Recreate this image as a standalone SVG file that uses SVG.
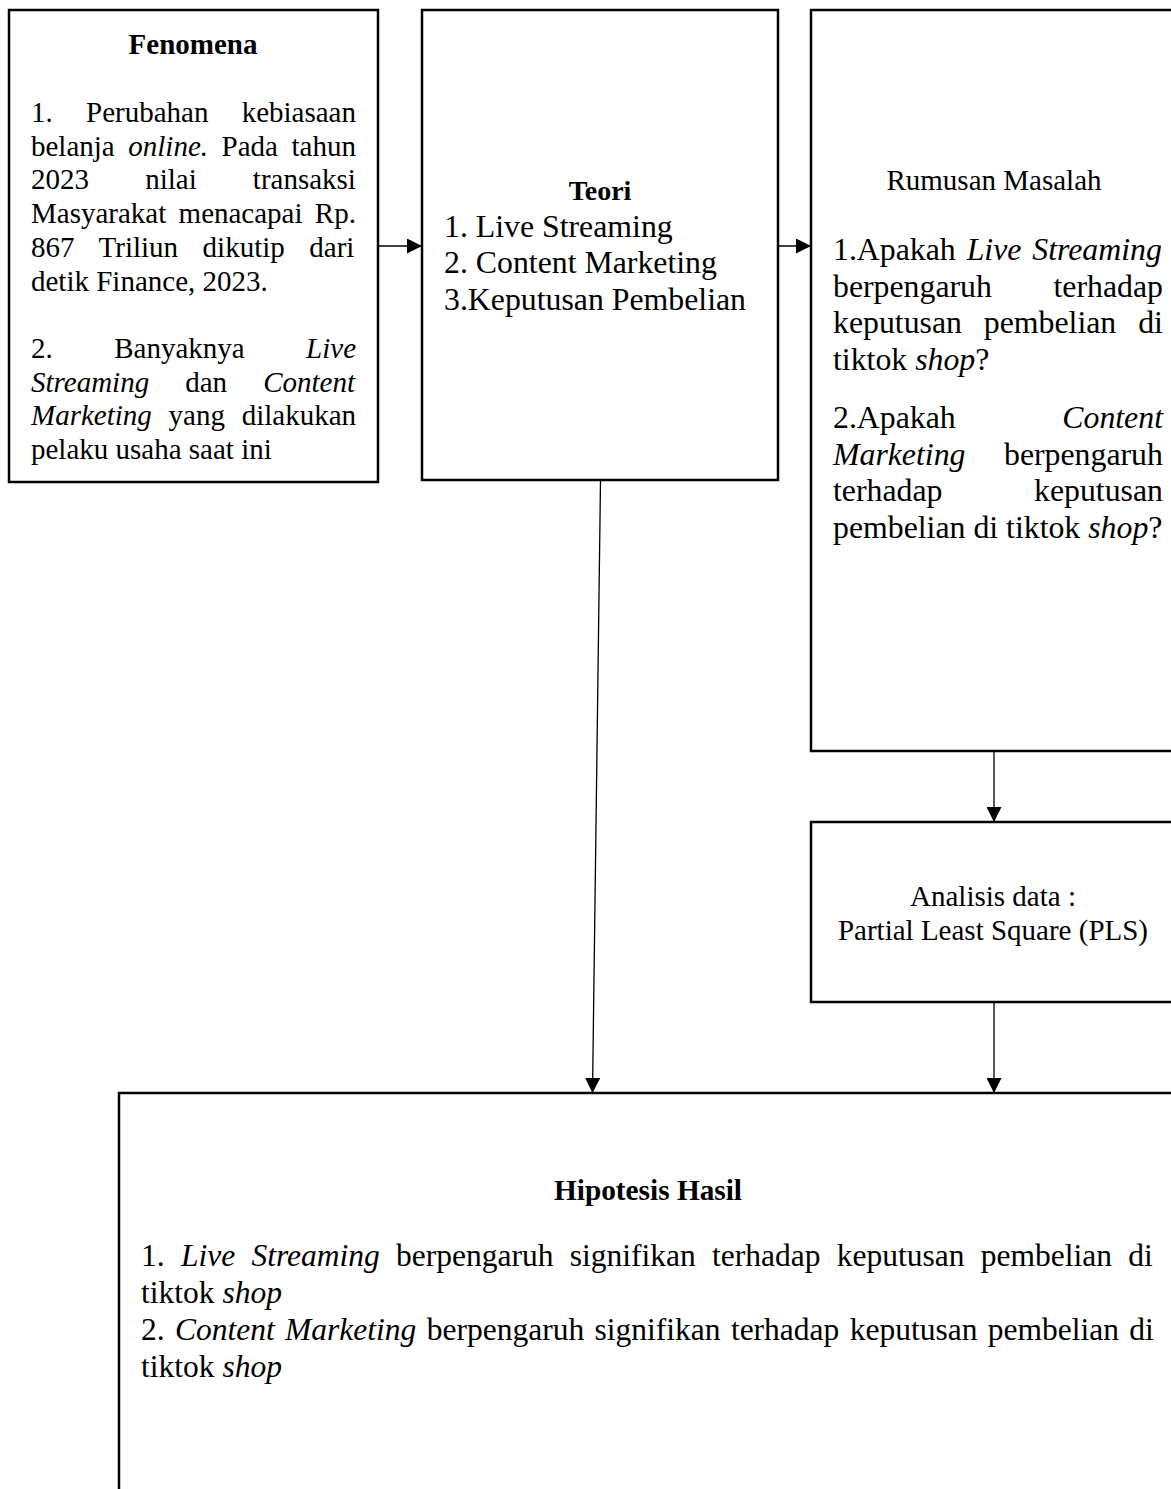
<svg xmlns="http://www.w3.org/2000/svg" width="1171" height="1489" viewBox="0 0 1171 1489">
<style>
  .box { fill: #ffffff; stroke: #000000; stroke-width: 2.5; }
  .conn { fill: none; stroke: #000000; stroke-width: 1.3; }
  text { font-family: "Liberation Serif", "Times New Roman", serif; fill: #000000; }
  .b { font-weight: bold; }
  .i { font-style: italic; }
  .f29 { font-size: 29px; }
  .f32 { font-size: 31.8px; }
  .f31 { font-size: 31.5px; }
</style>
<defs>
  <marker id="arrow" markerUnits="userSpaceOnUse" markerWidth="15" markerHeight="15" refX="15" refY="7.5" orient="auto">
    <path d="M0,0 L15,7.5 L0,15 Z" fill="#000000"/>
  </marker>
</defs>
<rect x="0" y="0" width="1171" height="1489" fill="#ffffff"/>

<g id="connectors">
  <line class="conn" x1="378" y1="246" x2="422" y2="246" marker-end="url(#arrow)"/>
  <line class="conn" x1="778" y1="246" x2="811" y2="246" marker-end="url(#arrow)"/>
  <line class="conn" x1="994" y1="751" x2="994" y2="822" marker-end="url(#arrow)"/>
  <line class="conn" x1="994" y1="1002" x2="994" y2="1093" marker-end="url(#arrow)"/>
  <line class="conn" x1="600.5" y1="481" x2="592.5" y2="1093" marker-end="url(#arrow)"/>
</g>

<g id="fenomena">
  <rect class="box" x="9" y="10" width="369" height="472"/>
  <text class="f29 b" x="193" y="54" text-anchor="middle">Fenomena</text>
  <text class="f29" x="31" y="122" word-spacing="26">1. Perubahan kebiasaan</text>
  <text class="f29" x="31" y="155.7" word-spacing="6.3">belanja <tspan class="i">online.</tspan> Pada tahun</text>
  <text class="f29" x="31" y="189.4" word-spacing="48.9">2023 nilai transaksi</text>
  <text class="f29" x="31" y="223.1" word-spacing="5.05">Masyarakat menacapai Rp.</text>
  <text class="f29" x="31" y="256.8" word-spacing="17.3">867 Triliun dikutip dari</text>
  <text class="f29" x="31" y="290.5">detik Finance, 2023.</text>
  <text class="f29" x="31" y="357.9" word-spacing="54.2">2. Banyaknya <tspan class="i">Live</tspan></text>
  <text class="f29" x="31" y="391.6" word-spacing="28.8"><tspan class="i">Streaming</tspan> dan <tspan class="i">Content</tspan></text>
  <text class="f29" x="31" y="425.3" word-spacing="9.5"><tspan class="i">Marketing</tspan> yang dilakukan</text>
  <text class="f29" x="31" y="459">pelaku usaha saat ini</text>
</g>

<g id="teori">
  <rect class="box" x="422" y="10" width="356" height="470"/>
  <text class="b" font-size="28" x="600" y="200" text-anchor="middle">Teori</text>
  <text class="f32" x="444" y="236.5">1. Live Streaming</text>
  <text class="f32" x="444" y="273">2. Content Marketing</text>
  <text class="f32" x="444" y="309.5">3.Keputusan Pembelian</text>
</g>

<g id="rumusan-masalah">
  <rect class="box" x="811" y="10" width="400" height="741"/>
  <text class="f29" x="994" y="190" text-anchor="middle">Rumusan Masalah</text>
  <text class="f32" x="833" y="260" word-spacing="2.95">1.Apakah <tspan class="i">Live Streaming</tspan></text>
  <text class="f32" x="833" y="296.5" word-spacing="53.6">berpengaruh terhadap</text>
  <text class="f32" x="833" y="333" word-spacing="13.95">keputusan pembelian di</text>
  <text class="f32" x="833" y="369.5">tiktok <tspan class="i">shop</tspan>?</text>
  <text class="f32" x="833" y="428" word-spacing="98.6">2.Apakah <tspan class="i">Content</tspan></text>
  <text class="f32" x="833" y="464.5" word-spacing="30.6"><tspan class="i">Marketing</tspan> berpengaruh</text>
  <text class="f32" x="833" y="501" word-spacing="83.6">terhadap keputusan</text>
  <text class="f32" x="833" y="537.5">pembelian di tiktok <tspan class="i">shop</tspan>?</text>
</g>

<g id="analisis-data">
  <rect class="box" x="811" y="822" width="400" height="180"/>
  <text class="f29" x="993" y="906" text-anchor="middle">Analisis data :</text>
  <text class="f29" x="993" y="940" text-anchor="middle">Partial Least Square (PLS)</text>
</g>

<g id="hipotesis-hasil">
  <rect class="box" x="119" y="1093" width="1100" height="450"/>
  <text class="b" font-size="29.3" x="648" y="1200" text-anchor="middle">Hipotesis Hasil</text>
  <text class="f31" x="141" y="1266" word-spacing="8.4">1. <tspan class="i">Live Streaming</tspan> berpengaruh signifikan terhadap keputusan pembelian di</text>
  <text class="f31" x="141" y="1302.5">tiktok <tspan class="i">shop</tspan></text>
  <text class="f31" x="141" y="1340" word-spacing="2.5">2. <tspan class="i">Content Marketing</tspan> berpengaruh signifikan terhadap keputusan pembelian di</text>
  <text class="f31" x="141" y="1376.5">tiktok <tspan class="i">shop</tspan></text>
</g>
</svg>
